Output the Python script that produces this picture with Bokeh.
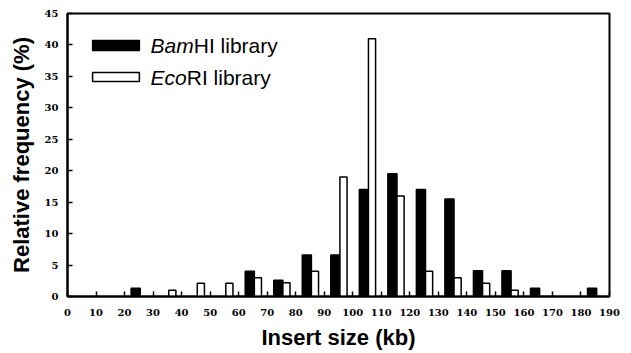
from bokeh.plotting import figure
from bokeh.models import Range1d, FixedTicker, Label, ColumnDataSource
from bokeh.embed import file_html
from bokeh.resources import INLINE

# Data (bin start of each 10-kb class, relative frequency %)
bins = [0, 10, 20, 30, 40, 50, 60, 70, 80, 90, 100, 110, 120, 130, 140, 150, 160, 170, 180]
bamhi = [0, 0, 1.3, 0, 0, 0, 4.0, 2.6, 6.6, 6.6, 17.0, 19.5, 17.0, 15.5, 4.1, 4.1, 1.3, 0, 1.3]
ecori = [0, 0, 0, 1.0, 2.1, 2.1, 3.0, 2.2, 4.0, 19.0, 41.0, 16.0, 4.0, 3.0, 2.1, 1.0, 0, 0, 0]
x_ticks = list(range(0, 191, 10))
y_ticks = list(range(0, 46, 5))
legend_names = [("Bam", "HI library"), ("Eco", "RI library")]

p = figure(width=631, height=353, output_backend="svg", toolbar_location=None,
           x_range=Range1d(0, 190), y_range=Range1d(0, 45),
           min_border_left=67, min_border_right=22, min_border_top=13, min_border_bottom=57)
p.xgrid.visible = False
p.ygrid.visible = False
p.outline_line_color = "black"
p.outline_line_width = 2
p.background_fill_color = "white"
p.border_fill_color = "white"

bam_src = ColumnDataSource(dict(x=[b + 3.9 for b, v in zip(bins, bamhi) if v > 0],
                                top=[v for v in bamhi if v > 0]))
eco_src = ColumnDataSource(dict(x=[b + 6.75 for b, v in zip(bins, ecori) if v > 0],
                                top=[v for v in ecori if v > 0]))
p.vbar(x="x", top="top", bottom=0, width=3.2, source=bam_src,
       fill_color="black", line_color="black", line_width=1.5)
p.vbar(x="x", top="top", bottom=0, width=2.5, source=eco_src,
       fill_color="white", line_color="black", line_width=1.5)

# legend
p.quad(left=[8.8], right=[25.2], bottom=[39.1], top=[40.7],
       fill_color="black", line_color="black", line_width=1.5)
p.quad(left=[8.8], right=[25.2], bottom=[34.2], top=[35.6],
       fill_color="white", line_color="black", line_width=1.5)
ital_w = [43.2, 36.2]
for (it, rest), yc, w in zip(legend_names, [39.9, 34.9], ital_w):
    p.add_layout(Label(x=29.1, y=yc, text=it, text_font="Liberation Sans",
                       text_font_style="italic", text_font_size="21px",
                       text_baseline="middle", text_color="black"))
    p.add_layout(Label(x=29.1, y=yc, x_offset=w, text=rest, text_font="Liberation Sans",
                       text_font_size="21px", text_baseline="middle", text_color="black"))

for ax, ticks in ((p.xaxis[0], x_ticks), (p.yaxis[0], y_ticks)):
    ax.ticker = FixedTicker(ticks=ticks)
    ax.minor_tick_line_color = None
    ax.major_tick_in = 5
    ax.major_tick_out = 0
    ax.major_tick_line_width = 1.5
    ax.major_tick_line_color = "black"
    ax.axis_line_width = 2
    ax.axis_line_color = "black"
    ax.major_label_text_font = "DejaVu Serif"
    ax.major_label_text_font_style = "bold"
    ax.major_label_text_font_size = "10px"
    ax.major_label_text_color = "black"
    ax.axis_label_text_font = "Liberation Sans"
    ax.axis_label_text_font_style = "bold"
    ax.axis_label_text_font_size = "22px"
    ax.axis_label_text_color = "black"

p.xaxis.axis_label = "Insert size (kb)"
p.yaxis.axis_label = "Relative frequency (%)"
p.xaxis.major_label_standoff = 12
p.yaxis.major_label_standoff = 9
p.xaxis.axis_label_standoff = 6
p.yaxis.axis_label_standoff = 8

open("out.html", "w").write(file_html(p, INLINE))
